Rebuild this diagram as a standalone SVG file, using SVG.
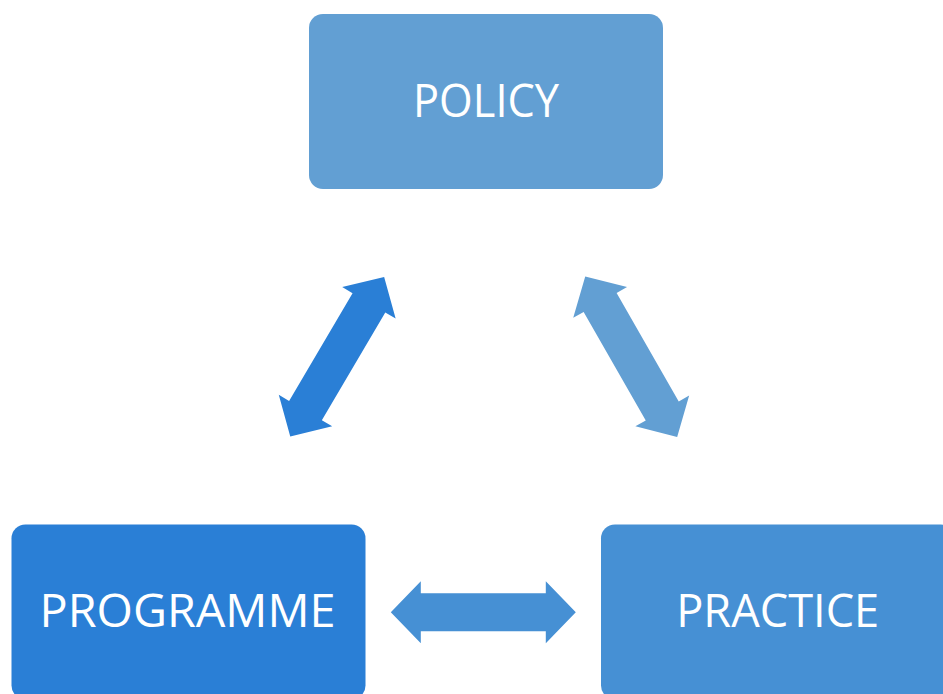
<svg xmlns="http://www.w3.org/2000/svg" width="943" height="694" viewBox="0 0 943 694">
<style>
.lbl{font-family:"Open Sans","Liberation Sans",sans-serif;font-size:46px;fill:#ffffff;text-anchor:middle}
</style>
<defs>
<path id="dbl" d="M-92.5,0 L-62.5,-31 L-62.5,-19 L62.5,-19 L62.5,-31 L92.5,0 L62.5,31 L62.5,19 L-62.5,19 L-62.5,31 Z"/>
</defs>
<rect width="943" height="694" fill="#ffffff"/>
<g id="connectors">
<use href="#dbl" fill="#2A7FD6" transform="translate(337.2,356.7) rotate(-59.5)"/>
<use href="#dbl" fill="#629FD3" transform="translate(631.2,356.7) rotate(60.2)"/>
<use href="#dbl" fill="#4690D4" transform="translate(483.3,612.3)"/>
</g>
<g id="policy">
<rect x="309" y="14" width="354" height="175" rx="14" fill="#629FD3"/>
<text class="lbl" x="486" y="116.7" textLength="146" lengthAdjust="spacingAndGlyphs">POLICY</text>
</g>
<g id="programme">
<rect x="11.5" y="524.5" width="354" height="175" rx="14" fill="#2A7FD6"/>
<text class="lbl" x="187.5" y="626.7" textLength="296" lengthAdjust="spacingAndGlyphs">PROGRAMME</text>
</g>
<g id="practice">
<rect x="601" y="524.5" width="354" height="175" rx="14" fill="#4690D4"/>
<text class="lbl" x="777.7" y="626.7" textLength="203" lengthAdjust="spacingAndGlyphs">PRACTICE</text>
</g>
</svg>
